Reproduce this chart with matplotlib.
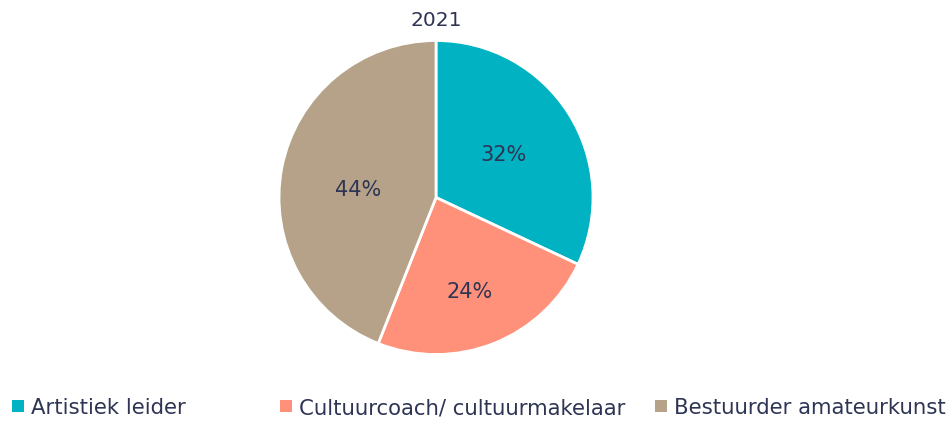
import matplotlib
matplotlib.use("Agg")
import matplotlib.pyplot as plt
import numpy as np

title = "2021"
categories = ["Artistiek leider", "Cultuurcoach/ cultuurmakelaar", "Bestuurder amateurkunst"]
values = [32, 24, 44]
colors = ["#00B2C2", "#FF917A", "#B5A288"]
text_color = "#2E3453"
label_dist = [0.51, 0.64, 0.50]
label_shift_deg = [0, -2, 5]
legend_x = [12, 280, 655]

W, H = 952, 421
fig = plt.figure(figsize=(W / 100, H / 100), dpi=100)
ax = fig.add_axes([0, 0, 1, 1])

cx, cy, r = 436, H - 197.5, 157
wedges, texts, autotexts = ax.pie(
    values, colors=colors, startangle=90, counterclock=False,
    center=(cx, cy), radius=r, frame=True,
    autopct=lambda p: f"{p:.0f}%", pctdistance=0.55,
    wedgeprops=dict(edgecolor="white", linewidth=2),
    textprops=dict(color=text_color, fontsize=15, family="DejaVu Sans"),
)
for w, t, d, s in zip(wedges, autotexts, label_dist, label_shift_deg):
    ang = np.deg2rad((w.theta1 + w.theta2) / 2 + s)
    t.set_position((cx + d * r * np.cos(ang), cy + d * r * np.sin(ang)))

ax.set_xlim(0, W)
ax.set_ylim(0, H)
ax.set_aspect("equal")
ax.axis("off")

fig.text(436 / W, 1 - 20 / H, title, ha="center", va="center",
         fontsize=14.5, color=text_color, family="DejaVu Sans")

for x, c, lab in zip(legend_x, colors, categories):
    ax.add_patch(plt.Rectangle((x, H - 412), 12, 12.5, facecolor=c, edgecolor="none"))
    ax.text(x + 19, H - 408.5, lab, ha="left", va="center", fontsize=15.3,
            color=text_color, family="DejaVu Sans")

fig.savefig("out.png", dpi=100)
